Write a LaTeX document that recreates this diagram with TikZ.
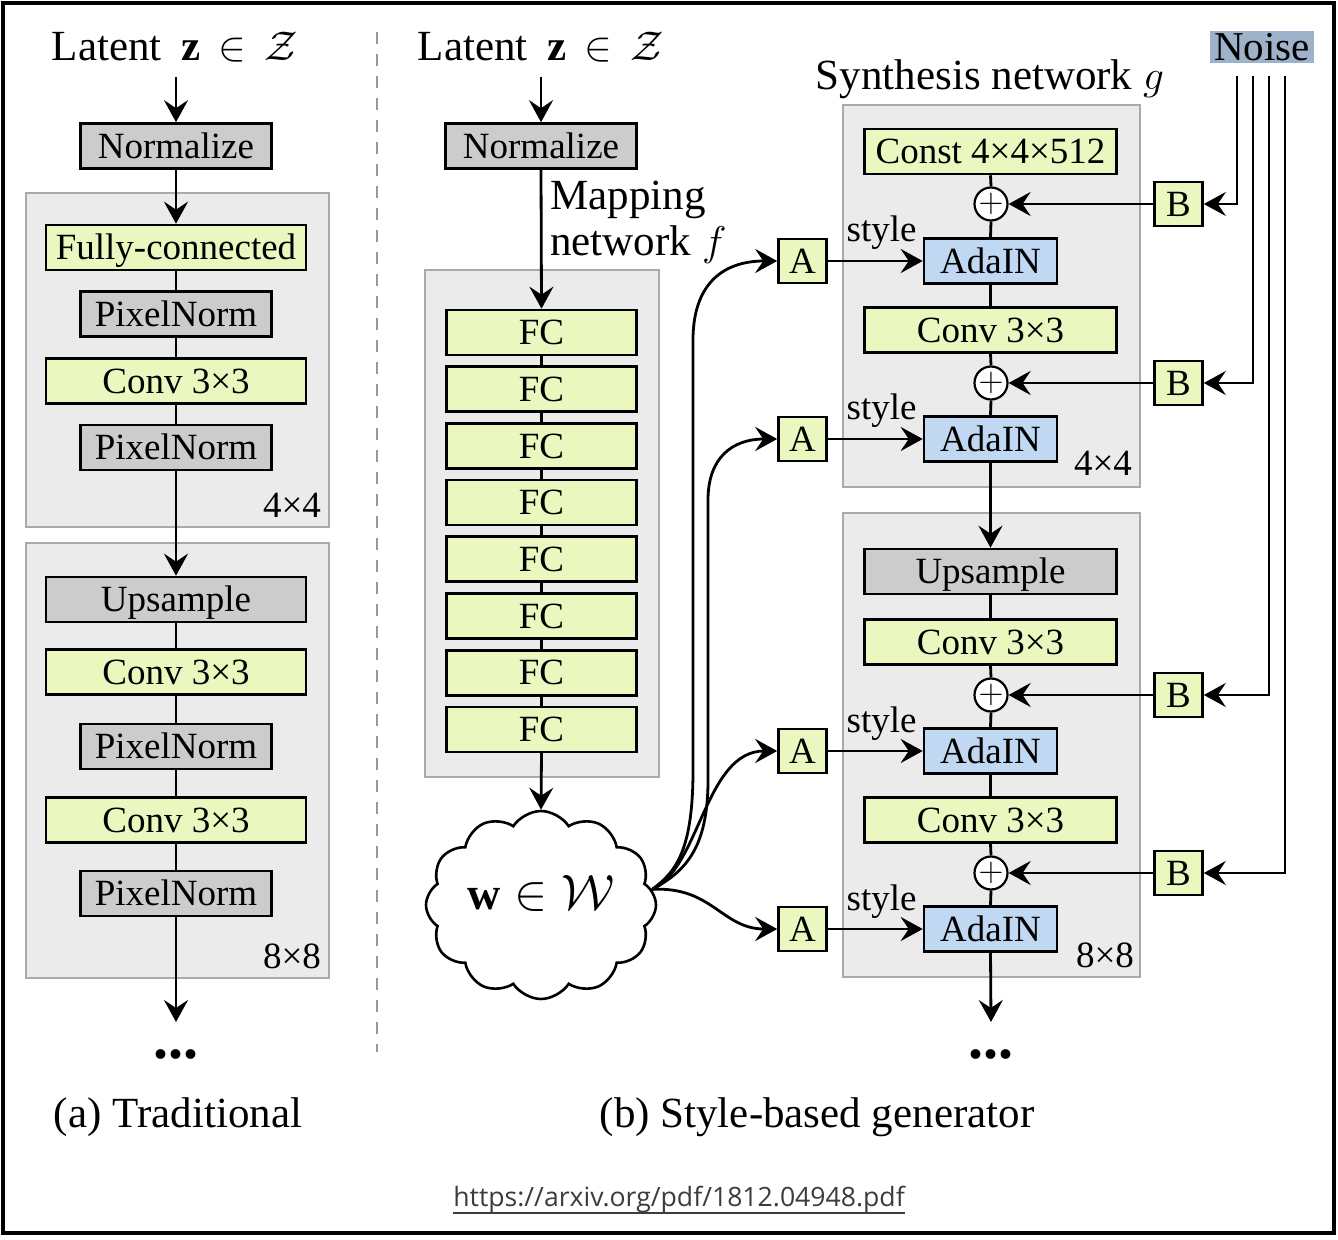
\documentclass[tikz,border=0pt]{standalone}
\usepackage{fontspec}
\setmainfont{Liberation Serif}
\newfontfamily\urlfont{Open Sans}
\usetikzlibrary{arrows.meta,shapes.symbols}

\definecolor{boxgray}{HTML}{CCCCCC}
\definecolor{boxgreen}{HTML}{EAF8BF}
\definecolor{boxblue}{HTML}{C0D8F2}
\definecolor{blockfill}{HTML}{EBEBEB}
\definecolor{blockline}{HTML}{AAAAAA}
\definecolor{noisefill}{HTML}{9EB3CA}
\definecolor{dashgray}{HTML}{999999}
\definecolor{urlgray}{HTML}{3C3C3C}

\newcommand{\latentz}{Latent\hspace{0.45em}$\mathbf{z}\mkern3mu\in\mkern3mu\mathcal{Z}$}

\begin{document}
\begin{tikzpicture}[x=0.5pt, y=-0.5pt,
  every node/.style={inner sep=0pt},
  lbl/.style={font=\fontsize{18.5}{20}\selectfont},
  ttl/.style={font=\fontsize{21.5}{24}\selectfont},
  box/.style={draw, line width=1.3pt, lbl, text height=12.2pt, text depth=0pt, minimum height=22.5pt},
  gbox/.style={box, fill=boxgray},
  ybox/.style={box, fill=boxgreen},
  bbox/.style={box, fill=boxblue},
  wide/.style={minimum width=130pt},
  swide/.style={minimum width=126pt},
  narrow/.style={minimum width=95.5pt},
  ada/.style={bbox, minimum width=66.5pt},
  sq/.style={ybox, minimum width=24pt, minimum height=22pt},
  adder/.style={circle, draw, fill=white, line width=1.1pt, minimum size=15.5pt, font=\fontsize{17}{17}\selectfont},
  block/.style={fill=blockfill, draw=blockline, line width=1pt},
  wire/.style={line width=1.4pt},
  arr/.style={wire, -{Stealth[length=11pt,width=12pt,inset=4pt]}},
]
\useasboundingbox (0,0) rectangle (1338,1240);
\draw[line width=2pt] (3,3) rectangle (1334,1233);

% grey stage backgrounds
\draw[block] (26,193) rectangle (329,527);
\draw[block] (26,543) rectangle (329,978);
\draw[block] (425,270) rectangle (659,777);
\draw[block] (843,105) rectangle (1140,487);
\draw[block] (843,513) rectangle (1140,977);

% separator
\draw[dashgray, line width=1pt, dash pattern=on 6pt off 5pt] (377,32) -- (377,1052);

% ---------------- (a) traditional generator ----------------
\node[ttl, anchor=base] (za) at (175,61) {\latentz};
\node[gbox, narrow] (na) at (176,146) {Normalize};
\node[ybox, wide] (fca) at (176,247.5) {Fully-connected};
\node[gbox, narrow] (pa1) at (176,314) {PixelNorm};
\node[ybox, wide] (ca1) at (176,381) {Conv 3×3};
\node[gbox, narrow] (pa2) at (176,447.5) {PixelNorm};
\node[lbl] (sa1) at (292,505) {4×4};
\node[gbox, wide] (ua) at (176,599.5) {Upsample};
\node[ybox, wide] (ca2) at (176,672) {Conv 3×3};
\node[gbox, narrow] (pa3) at (176,746.5) {PixelNorm};
\node[ybox, wide] (ca3) at (176,820) {Conv 3×3};
\node[gbox, narrow] (pa4) at (176,893.5) {PixelNorm};
\node[lbl] (sa2) at (292,956) {8×8};
\coordinate (enda) at (176,1022);
\node[font=\fontsize{30}{30}\bfseries\selectfont, anchor=base] (dota) at (176,1058) {...};
\node[ttl, anchor=base] (capa) at (178,1127) {(a) Traditional};

\draw[arr, shorten <=7pt] (za.south -| na.north) -- (na.north);
\draw[arr] (na.south) -- (fca.north);
\draw[wire] (fca.south) -- (pa1.north);
\draw[wire] (pa1.south) -- (ca1.north);
\draw[wire] (ca1.south) -- (pa2.north);
\draw[arr] (pa2.south) -- (ua.north);
\draw[wire] (ua.south) -- (ca2.north);
\draw[wire] (ca2.south) -- (pa3.north);
\draw[wire] (pa3.south) -- (ca3.north);
\draw[wire] (ca3.south) -- (pa4.north);
\draw[arr] (pa4.south) -- (enda);

% ---------------- (b) style-based generator ----------------
\node[ttl, anchor=base] (zb) at (541,61) {\latentz};
\node[gbox, narrow] (nb) at (541,146) {Normalize};
\node[ttl, anchor=base west] (mapa) at (550,210) {Mapping};
\node[ttl, anchor=base west] (mapb) at (550,256) {network $f$};
\foreach \i in {1,...,8}
  \node[ybox, minimum width=95pt] (fc\i) at (541.5,{332.5+56.7*(\i-1)}) {FC};
\foreach \i/\j in {1/2,2/3,3/4,4/5,5/6,6/7,7/8}
  \draw[wire] (fc\i.south) -- (fc\j.north);
\draw[arr, shorten <=7pt] (zb.south -| nb.north) -- (nb.north);
\draw[arr] (nb.south) -- (fc1.north);

\node[cloud, draw, fill=white, line width=1.3pt, cloud puffs=12, cloud puff arc=115,
      aspect=1.27, minimum width=115pt, minimum height=92pt,
      font=\fontsize{23}{24}\selectfont, text depth=13pt] (w) at (541,905) {$\mathbf{w}\in\mathcal{W}$};
\draw[arr] (fc8.south) -- (w.north);

% synthesis network
\node[ttl, anchor=base] (synt) at (990,90) {Synthesis network $g$};
\node[ybox, swide] (const) at (990.5,151.5) {Const 4×4×512};
\node[adder] (p1) at (991,204) {$+$};
\node[ada] (ad1) at (990.5,261) {AdaIN};
\node[ybox, swide] (cb1) at (990.5,330) {Conv 3×3};
\node[adder] (p2) at (991,383) {$+$};
\node[ada] (ad2) at (990.5,439) {AdaIN};
\node[lbl] (sb1) at (1103,463) {4×4};
\node[gbox, swide] (ub) at (990.5,571.5) {Upsample};
\node[ybox, swide] (cb2) at (990.5,642) {Conv 3×3};
\node[adder] (p3) at (991,695) {$+$};
\node[ada] (ad3) at (990.5,751) {AdaIN};
\node[ybox, swide] (cb3) at (990.5,820) {Conv 3×3};
\node[adder] (p4) at (991,873) {$+$};
\node[ada] (ad4) at (990.5,929) {AdaIN};
\node[lbl] (sb2) at (1105,955) {8×8};
\coordinate (endb) at (991,1022);
\node[font=\fontsize{30}{30}\bfseries\selectfont, anchor=base] (dotb) at (991,1058) {...};
\node[ttl, anchor=base] (capb) at (817,1127) {(b) Style-based generator};

\draw[wire] (const.south) -- (p1.north);
\draw[wire] (p1.south) -- (ad1.north);
\draw[wire] (ad1.south) -- (cb1.north);
\draw[wire] (cb1.south) -- (p2.north);
\draw[wire] (p2.south) -- (ad2.north);
\draw[arr] (ad2.south) -- (ub.north);
\draw[wire] (ub.south) -- (cb2.north);
\draw[wire] (cb2.south) -- (p3.north);
\draw[wire] (p3.south) -- (ad3.north);
\draw[wire] (ad3.south) -- (cb3.north);
\draw[wire] (cb3.south) -- (p4.north);
\draw[wire] (p4.south) -- (ad4.north);
\draw[arr] (ad4.south) -- (endb);

% learned affine transforms (A) with style inputs
\foreach \k/\yy in {1/261,2/439,3/751,4/929}{
  \node[sq] (a\k) at (802.5,\yy) {A};
  \draw[arr] (a\k.east) -- (ad\k.west);
  \node[lbl, anchor=base east] (st\k) at (917,\yy-19) {style};
}

% noise scaling (B)
\node[fill=noisefill, inner xsep=2pt, minimum height=16pt, text height=13.6pt, text depth=0pt,
      font=\fontsize{20.5}{22}\selectfont] (noise) at (1262,47) {Noise};
\foreach \k/\yy/\xx in {1/204/1237,2/383/1253,3/695/1269,4/873/1285}{
  \node[sq] (b\k) at (1178.5,\yy) {B};
  \coordinate (nz\k) at (\xx,76);
  \draw[arr] (nz\k) |- (b\k.east);
  \draw[arr] (b\k.west) -- (p\k.east);
}

% style vector fanning out from W
\draw[arr] (w.8) .. controls (676,872) and (693,850) .. (693,770) -- (693,340)
  .. controls (693,285) and (722,261) .. (a1.west);
\draw[arr] (w.8) .. controls (684,872) and (708,850) .. (708,780) -- (708,500)
  .. controls (708,458) and (732,439) .. (a2.west);
\draw[arr] (w.8) .. controls (700,868) and (705,751) .. (a3.west);
\draw[arr] (w.8) .. controls (712,886) and (722,929) .. (a4.west);

% source link
\node[font=\urlfont\fontsize{13.3}{15}\selectfont, text=urlgray, anchor=base] (url) at (679,1206) {https://arxiv.org/pdf/1812.04948.pdf};
\draw[urlgray, line width=1pt] ([yshift=-3.5pt]url.base west) -- ([yshift=-3.5pt]url.base east);
\end{tikzpicture}
\end{document}
